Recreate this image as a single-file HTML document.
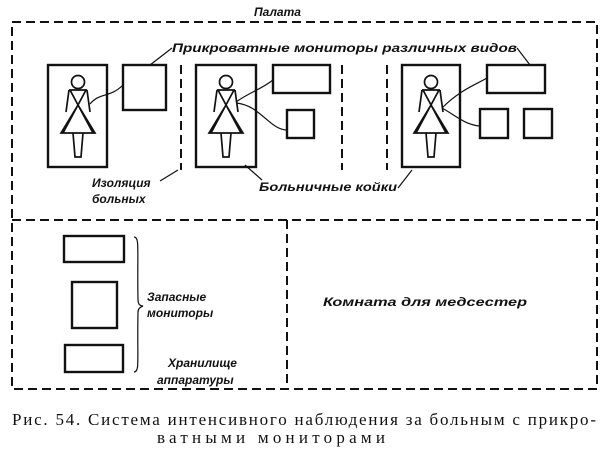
<!DOCTYPE html>
<html><head><meta charset="utf-8"><style>
body{margin:0;background:#fff;width:608px;height:455px;overflow:hidden}
svg{display:block}
.l{font-family:"Liberation Sans","DejaVu Sans",sans-serif;font-style:italic;font-weight:bold;font-size:12px;fill:#111}
.c{font-family:"Liberation Serif","DejaVu Serif",serif;font-size:17px;fill:#111}
</style></head><body>
<svg width="608" height="455" viewBox="0 0 608 455" xmlns="http://www.w3.org/2000/svg">
<defs>
<g id="fig" fill="none" stroke="#111" stroke-width="1.7">
<circle cx="0" cy="-34" r="6.5"/>
<path d="M-9,-26 H9 M-9,-26 L-12,-4 M9,-26 L12,-4 M-8,-26 L15,17 M8,-26 L-15,17 M-17,17 H17 L0,-11 Z M-5,17 L-3,41 H3 L5,17"/>
</g>
</defs>
<g fill="none" stroke="#111" stroke-width="2" stroke-dasharray="9,5">
<path d="M12,22 H597 V389 H12 Z"/>
<path d="M12,220 H597"/>
<path d="M287,220 V389"/>
<path d="M181,65 V170 M342,65 V170 M387,65 V170"/>
</g>
<g fill="none" stroke="#111" stroke-width="2.4">
<rect x="48" y="65" width="59" height="102"/>
<rect x="123" y="65" width="43" height="45"/>
<rect x="196" y="65" width="60" height="102"/>
<rect x="273" y="65" width="57" height="28"/>
<rect x="287" y="110" width="27" height="28"/>
<rect x="402" y="65" width="58" height="102"/>
<rect x="487" y="65" width="58" height="28"/>
<rect x="480" y="109" width="28" height="29"/>
<rect x="524" y="109" width="28" height="29"/>
<rect x="64" y="236" width="60" height="26"/>
<rect x="72" y="282" width="45" height="46"/>
<rect x="65" y="345" width="58" height="27"/>
</g>
<use href="#fig" x="78" y="116"/>
<use href="#fig" x="226" y="116"/>
<use href="#fig" x="431" y="116"/>
<g fill="none" stroke="#111" stroke-width="1.2">
<path d="M90,104 C100,92 110,98 123,85"/>
<path d="M236,102 C250,92 260,90 273,80"/>
<path d="M236,103 C260,105 270,130 287,130"/>
<path d="M442,108 C460,90 475,85 487,78"/>
<path d="M442,108 C455,115 465,125 480,126"/>
<path d="M150,65 L172,48"/>
<path d="M517,48 L530,65"/>
<path d="M160,181 L178,170"/>
<path d="M245,165 L262,180"/>
<path d="M398,188 L412,170"/>
<path d="M134,237 C140,237 137,250 138,300 C138,305 141,306 143,306 C141,307 138,308 138,312 C137,360 140,372 134,372"/>
</g>
<text class="l" x="254" y="16">Палата</text>
<text class="l" x="172" y="52" textLength="345" lengthAdjust="spacingAndGlyphs">Прикроватные мониторы различных видов</text>
<text class="l" x="92" y="187">Изоляция</text>
<text class="l" x="92" y="203">больных</text>
<text class="l" x="259" y="191" textLength="138" lengthAdjust="spacingAndGlyphs">Больничные койки</text>
<text class="l" x="147" y="301">Запасные</text>
<text class="l" x="147" y="317">мониторы</text>
<text class="l" x="168" y="367">Хранилище</text>
<text class="l" x="157" y="384">аппаратуры</text>
<text class="l" x="323" y="306" textLength="204" lengthAdjust="spacingAndGlyphs">Комната для медсестер</text>
<text class="c" x="12" y="425" textLength="584" lengthAdjust="spacing">Рис. 54. Система интенсивного наблюдения за больным с прикро-</text>
<text class="c" x="157" y="443" textLength="228" lengthAdjust="spacing">ватными мониторами</text>
</svg>
</body></html>
